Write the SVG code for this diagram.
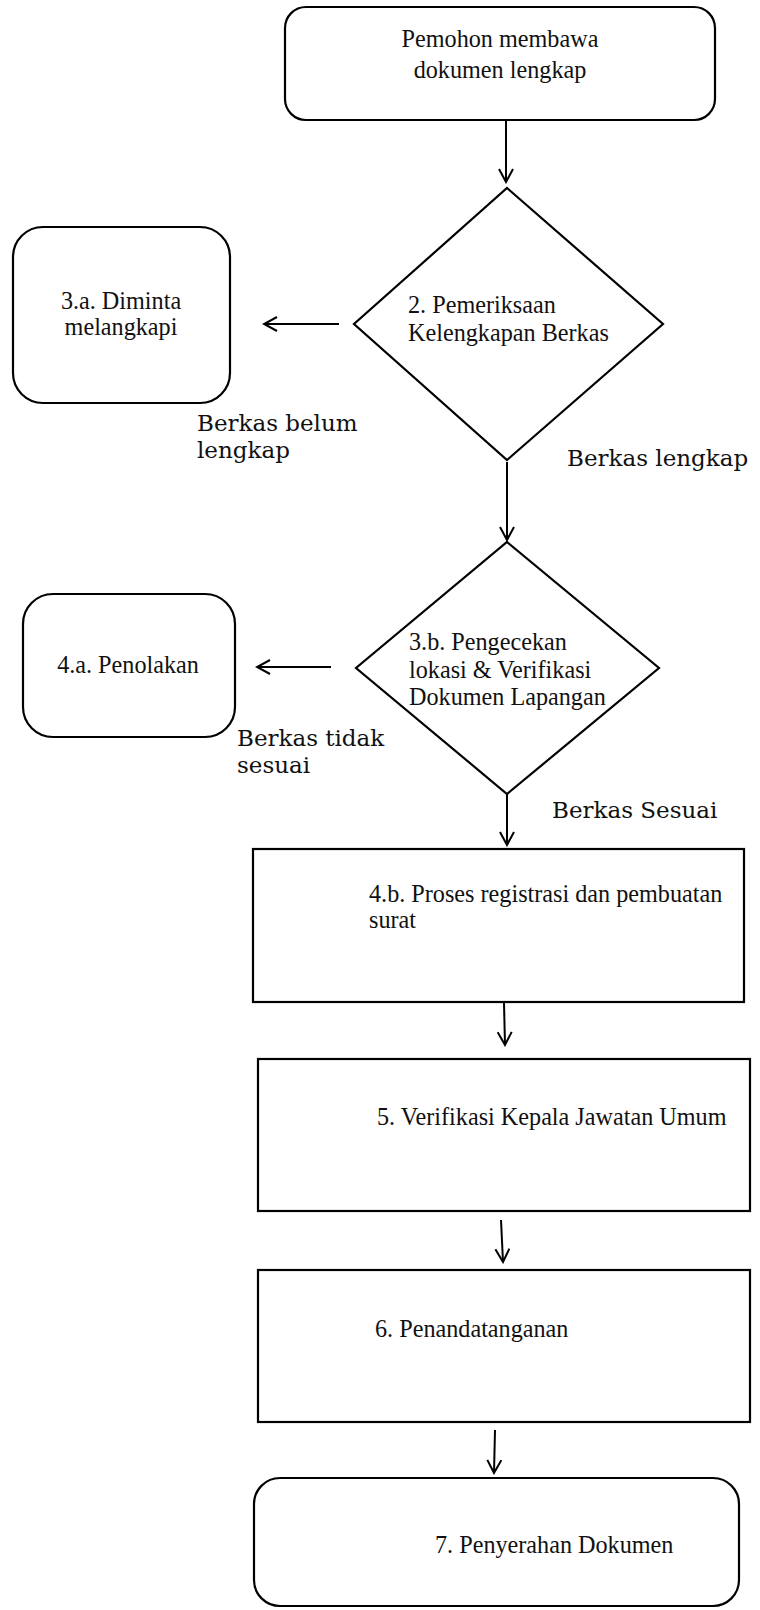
<svg xmlns="http://www.w3.org/2000/svg" width="760" height="1610" viewBox="0 0 760 1610">
<style>
.shape{fill:#fff;stroke:#000;stroke-width:2.2}
.t{font-family:"Liberation Serif","Times New Roman",serif;font-size:24.2px;fill:#111}
.lbl{font-family:"DejaVu Serif",serif;font-size:23px;fill:#111}
.c{fill:none;stroke:#000;stroke-width:2}
</style>
<defs>
<marker id="ah" viewBox="-14 -8 16 16" refX="0" refY="0" markerWidth="16" markerHeight="16" markerUnits="userSpaceOnUse" orient="auto">
<path d="M-13,-7 L0,0 L-13,7" fill="none" stroke="#000" stroke-width="2"/>
</marker>
</defs>
<rect width="760" height="1610" fill="#fff"/>
<g id="n1">
<rect class="shape" x="285" y="7" width="430" height="113" rx="21"/>
<text class="t" x="500" y="47" text-anchor="middle">Pemohon membawa</text>
<text class="t" x="500" y="78" text-anchor="middle">dokumen lengkap</text>
</g>
<g id="n2">
<polygon class="shape" points="507,188 663,324 507,460 354,324"/>
<text class="t" x="408" y="313">2. Pemeriksaan</text>
<text class="t" x="408" y="341">Kelengkapan Berkas</text>
</g>
<g id="n3a">
<rect class="shape" x="13" y="227" width="217" height="176" rx="30"/>
<text class="t" x="121" y="309" text-anchor="middle">3.a. Diminta</text>
<text class="t" x="121" y="335" text-anchor="middle">melangkapi</text>
</g>
<g id="n3b">
<polygon class="shape" points="507,542 659,668 507,794 356,668"/>
<text class="t" x="409" y="650">3.b. Pengecekan</text>
<text class="t" x="409" y="678">lokasi &amp; Verifikasi</text>
<text class="t" x="409" y="705">Dokumen Lapangan</text>
</g>
<g id="n4a">
<rect class="shape" x="23" y="594" width="212" height="143" rx="30"/>
<text class="t" x="128" y="673" text-anchor="middle">4.a. Penolakan</text>
</g>
<g id="n4b">
<rect class="shape" x="253" y="849" width="491" height="153"/>
<text class="t" x="369" y="902">4.b. Proses registrasi dan pembuatan</text>
<text class="t" x="369" y="928">surat</text>
</g>
<g id="n5">
<rect class="shape" x="258" y="1059" width="492" height="152"/>
<text class="t" x="377" y="1125">5. Verifikasi Kepala Jawatan Umum</text>
</g>
<g id="n6">
<rect class="shape" x="258" y="1270" width="492" height="152"/>
<text class="t" x="375" y="1337">6. Penandatanganan</text>
</g>
<g id="n7">
<rect class="shape" x="254" y="1478" width="485" height="128" rx="26"/>
<text class="t" x="435" y="1553">7. Penyerahan Dokumen</text>
</g>
<g id="labels">
<text class="lbl" x="197" y="431">Berkas belum</text>
<text class="lbl" x="197" y="458">lengkap</text>
<text class="lbl" x="567" y="466">Berkas lengkap</text>
<text class="lbl" x="237" y="746">Berkas tidak</text>
<text class="lbl" x="237" y="773">sesuai</text>
<text class="lbl" x="552" y="818">Berkas Sesuai</text>
</g>
<g id="connectors">
<line class="c" x1="506" y1="120" x2="506" y2="182" marker-end="url(#ah)"/>
<line class="c" x1="339" y1="324" x2="264" y2="324" marker-end="url(#ah)"/>
<line class="c" x1="507" y1="462" x2="507" y2="540" marker-end="url(#ah)"/>
<line class="c" x1="331" y1="667" x2="257" y2="667" marker-end="url(#ah)"/>
<line class="c" x1="507" y1="794" x2="507" y2="845" marker-end="url(#ah)"/>
<line class="c" x1="504" y1="1003" x2="505" y2="1045" marker-end="url(#ah)"/>
<line class="c" x1="501" y1="1220" x2="503" y2="1262" marker-end="url(#ah)"/>
<line class="c" x1="495" y1="1430" x2="494" y2="1473" marker-end="url(#ah)"/>
</g>
</svg>
